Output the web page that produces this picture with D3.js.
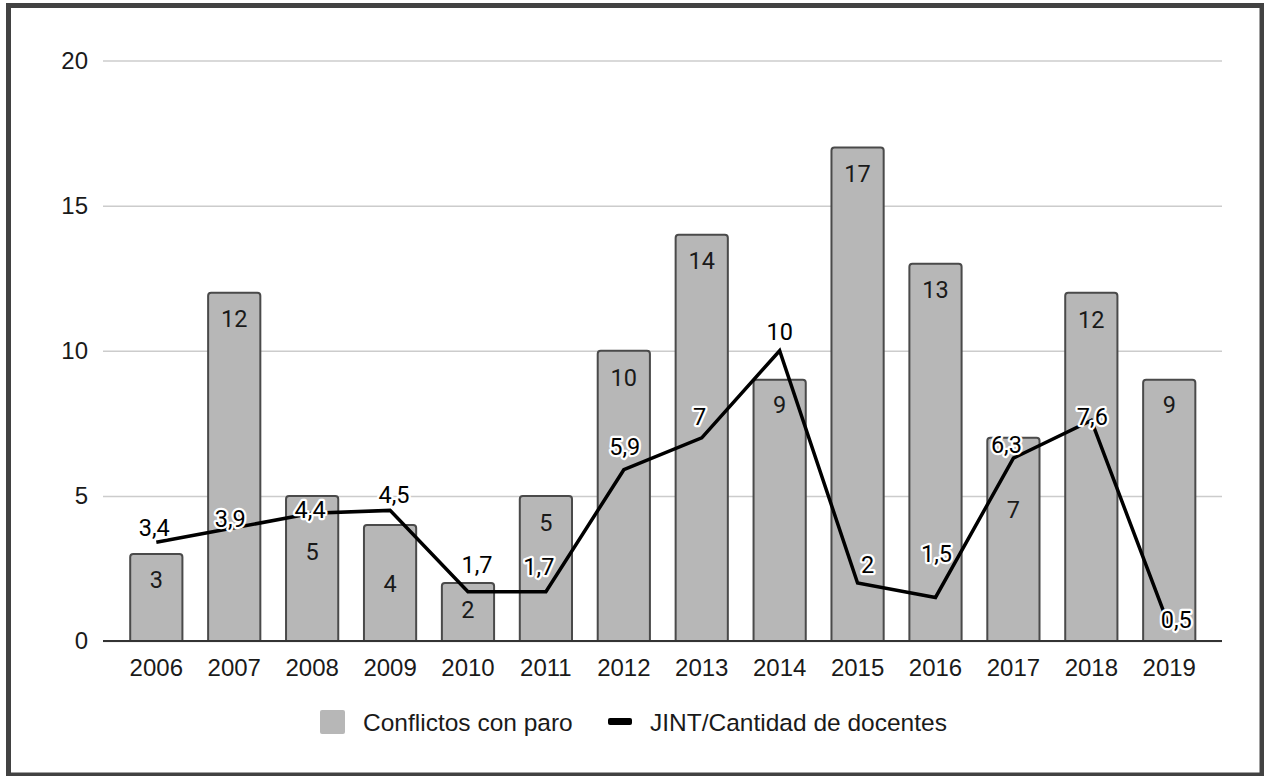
<!DOCTYPE html>
<html>
<head>
<meta charset="utf-8">
<script src="https://cdn.jsdelivr.net/npm/d3@7"></script>
<style>
  html, body { margin: 0; padding: 0; background: #fff; }
  svg { display: block; }
</style>
</head>
<body>
<svg id="chart" width="1264" height="776"></svg>
<script>
// Years on the category axis
const years = ["2006", "2007", "2008", "2009", "2010", "2011", "2012",
               "2013", "2014", "2015", "2016", "2017", "2018", "2019"];
// Bars: conflicts that included a strike
const conflictos = [3, 12, 5, 4, 2, 5, 10, 14, 9, 17, 13, 7, 12, 9];
// Line: JINT per number of teachers
const jint = [3.4, 3.9, 4.4, 4.5, 1.7, 1.7, 5.9, 7, 10, 2, 1.5, 6.3, 7.6, 0.5];
// Value-axis ticks
const yTicks = [0, 5, 10, 15, 20];
// Legend entries
const legendLabels = ["Conflictos con paro", "JINT/Cantidad de docentes"];

// Label placement tweaks (pixels) so annotations don't collide
const lineLabelDx = [-2, -4, -2, 4, 9, -7, 1, -2, 0, 10, 1, -7, 1, 7];
const lineLabelDy = [-6, -1, 5, -7, -19, -17, -15, -13, -11, -10, -35, -5, 5, 2];
const barLabelDy  = [34, 34, 64, 67, 35, 35, 35, 34, 33, 34, 34, 80, 35, 33];

const svg = d3.select("#chart");

const plotLeft = 103, plotRight = 1222, plotBottom = 641, plotTop = 60.5;

const x = d3.scaleBand()
  .domain(years)
  .range([117.35, 1208.2])
  .paddingInner(0.33)
  .paddingOuter(0.165);

const y = d3.scaleLinear()
  .domain([0, 20])
  .range([plotBottom, plotTop]);

const locale = d3.formatLocale({ decimal: ",", thousands: ".", grouping: [3], currency: ["", ""] });
const fmt = locale.format("~g");

// Outer frame
svg.append("rect")
  .attr("x", 8.5).attr("y", 5.5)
  .attr("width", 1253.5).attr("height", 769.5)
  .attr("fill", "#fff")
  .attr("stroke", "#424242")
  .attr("stroke-width", 5);

// Gridlines + value axis labels
const yAxis = svg.append("g")
  .attr("transform", `translate(${plotLeft},0)`)
  .call(d3.axisLeft(y).tickValues(yTicks).tickSize(-(plotRight - plotLeft)).tickPadding(15).tickFormat(d3.format("d")));
yAxis.select(".domain").remove();
yAxis.selectAll(".tick line").attr("stroke", "#cccccc").attr("stroke-width", 1.5);
yAxis.selectAll(".tick text")
  .attr("font-family", "'Liberation Sans', Arial, sans-serif")
  .attr("font-size", 24)
  .attr("fill", "#1a1a1a");

// Category axis labels
const xAxis = svg.append("g")
  .attr("transform", `translate(0,${plotBottom})`)
  .call(d3.axisBottom(x).tickSize(0).tickPadding(18));
xAxis.select(".domain").remove();
xAxis.selectAll(".tick text")
  .attr("font-family", "'Liberation Sans', Arial, sans-serif")
  .attr("font-size", 24)
  .attr("fill", "#1a1a1a");

// Bars with rounded top corners
function barPath(x0, y0, w, h, r) {
  r = Math.min(r, h, w / 2);
  return `M${x0},${y0 + h}V${y0 + r}Q${x0},${y0} ${x0 + r},${y0}H${x0 + w - r}Q${x0 + w},${y0} ${x0 + w},${y0 + r}V${y0 + h}Z`;
}

svg.append("g").selectAll("path")
  .data(conflictos)
  .join("path")
  .attr("d", (d, i) => barPath(x(years[i]), y(d), x.bandwidth(), y(0) - y(d), 3))
  .attr("fill", "#b7b7b7")
  .attr("stroke", "#4a4a4a")
  .attr("stroke-width", 2);

// Baseline
svg.append("line")
  .attr("x1", plotLeft).attr("x2", plotRight)
  .attr("y1", plotBottom).attr("y2", plotBottom)
  .attr("stroke", "#333")
  .attr("stroke-width", 2);

// Bar value labels
svg.append("g").selectAll("text")
  .data(conflictos)
  .join("text")
  .attr("x", (d, i) => x(years[i]) + x.bandwidth() / 2)
  .attr("y", (d, i) => y(d) + barLabelDy[i])
  .attr("text-anchor", "middle")
  .attr("font-family", "Roboto, sans-serif")
  .attr("font-size", 23.5)
  .attr("fill", "#1a1a1a")
  .text(d => fmt(d));

// Line series
const line = d3.line()
  .x((d, i) => x(years[i]) + x.bandwidth() / 2)
  .y(d => y(d));

svg.append("path")
  .datum(jint)
  .attr("d", line)
  .attr("fill", "none")
  .attr("stroke", "#000")
  .attr("stroke-width", 3.5)
  .attr("stroke-linejoin", "miter");

// Line value labels with white halo
svg.append("g").selectAll("text")
  .data(jint)
  .join("text")
  .attr("x", (d, i) => x(years[i]) + x.bandwidth() / 2 + lineLabelDx[i])
  .attr("y", (d, i) => y(d) + lineLabelDy[i])
  .attr("text-anchor", "middle")
  .attr("font-family", "Roboto, sans-serif")
  .attr("font-size", 23.5)
  .attr("fill", "#000")
  .attr("stroke", "#fff")
  .attr("stroke-width", 4.5)
  .attr("stroke-linejoin", "round")
  .attr("paint-order", "stroke")
  .text(d => fmt(d));

// Legend
const legend = svg.append("g");
legend.append("rect")
  .attr("x", 320).attr("y", 710).attr("width", 25).attr("height", 24).attr("rx", 2)
  .attr("fill", "#b7b7b7");
legend.append("text")
  .attr("x", 363).attr("y", 731)
  .attr("font-family", "'Liberation Sans', Arial, sans-serif")
  .attr("font-size", 24.5)
  .attr("fill", "#1a1a1a")
  .text(legendLabels[0]);
legend.append("rect")
  .attr("x", 608).attr("y", 718).attr("width", 24).attr("height", 7).attr("rx", 2)
  .attr("fill", "#000");
legend.append("text")
  .attr("x", 650).attr("y", 731)
  .attr("font-family", "'Liberation Sans', Arial, sans-serif")
  .attr("font-size", 24.5)
  .attr("fill", "#1a1a1a")
  .text(legendLabels[1]);
</script>
</body>
</html>
